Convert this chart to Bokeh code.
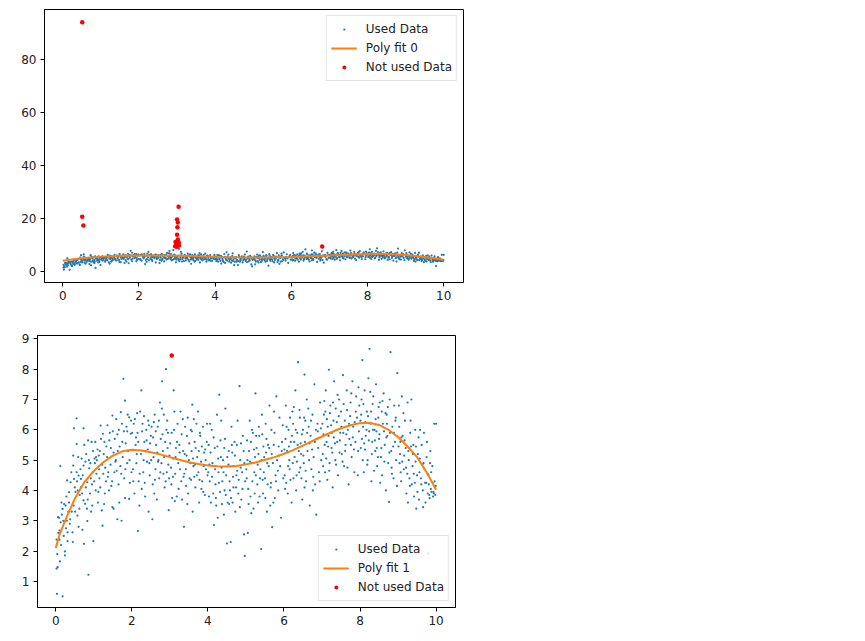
from bokeh.plotting import figure
from bokeh.models import Range1d, FixedTicker, Legend
from bokeh.embed import file_html
from bokeh.resources import INLINE

# ---------------- data ----------------
used_0 = [(0.02,1.42),(0.03,0.59),(0.05,1.47),(0.18,0.51),(0.11,1.66),(0.24,1.86),(0.24,1.99),(0.02,2.38),
          (0.10,2.38),(0.10,2.68),(0.13,2.95),(0.06,3.12),(0.09,3.10),(0.20,3.00),(0.29,3.00),(0.18,3.39),
          (0.26,3.50),(0.15,3.60),(0.22,3.55),(0.31,2.62),(0.44,2.62),(0.31,2.33),(0.45,2.30),(0.12,4.80),
          (0.35,3.94),(0.39,4.27),(0.30,4.33),(0.48,4.38),(0.55,4.60),(0.46,4.82),(0.46,5.15),(0.55,5.53),
          (0.48,6.05),(0.55,6.38),(0.73,6.05),(0.60,4.49),(0.66,4.38),(0.57,3.17),(0.60,2.80),(0.70,2.70),
          (0.74,2.24),(0.86,1.22),(0.99,2.33),(0.73,3.67),(0.77,3.56),(0.82,3.40),(0.66,4.10),(0.83,4.27),
          (0.88,4.73),(0.92,4.40),(0.73,4.82),(0.80,5.20),(0.83,2.99),(0.96,3.50),(0.97,4.60),(0.94,5.60),
          (0.85,5.65),(0.38,3.05),(0.42,3.30),(0.27,2.75),(0.52,3.95),(0.63,3.85),(0.68,5.05),(0.90,3.90),
          (0.78,4.95),(0.35,3.60),(0.50,4.10),(0.58,4.00),
          (0.04,1.90),(0.07,2.60),(0.14,2.20),(0.16,3.20),(0.21,2.50),(0.28,3.80),(0.33,3.30),(0.37,2.90),
          (0.41,4.60),(0.47,3.50),(0.51,3.30),(0.56,4.30),(0.59,5.10),(0.62,3.40),(0.65,4.70),(0.69,3.90),
          (0.71,4.50),(0.75,5.50),(0.79,4.10),(0.84,3.70),(0.87,5.00),(0.91,4.90),(0.93,3.30),(0.95,4.20),
          (0.98,5.30)]
used_1 = [(1.03,4.90),(1.08,5.00),(1.02,5.05),(1.06,5.10),(1.10,5.35),(1.16,5.30),(1.24,5.87),(1.18,6.14),
          (1.21,3.34),(1.23,2.84),(1.05,4.00),(1.12,3.95),(1.15,4.40),(1.49,3.45),(1.52,3.40),(1.62,3.05),
          (1.73,3.00),(1.40,4.00),(1.48,4.30),(1.49,6.47),(1.71,6.58),(1.78,7.68),(1.82,6.96),(1.93,6.41),
          (1.97,5.87),(1.93,3.72),(1.30,4.75),(1.35,5.10),(1.28,5.60),(1.32,4.30),(1.38,4.60),(1.45,5.40),
          (1.55,5.70),(1.58,5.00),(1.60,4.65),(1.62,5.85),(1.65,4.20),(1.68,5.45),(1.70,4.80),(1.74,6.20),
          (1.76,5.10),(1.80,4.40),(1.84,5.55),(1.86,6.10),(1.88,4.90),(1.90,5.30),(1.95,4.25),(1.98,6.30),
          (1.42,5.90),(1.25,4.55),(1.14,4.70),(1.57,4.95),(1.66,6.00),(1.82,3.75),(1.27,3.55),(1.36,6.15),
          (1.52,5.25),(1.88,5.95),(1.72,4.55),(1.44,4.85),
          (1.01,4.30),(1.04,5.60),(1.07,4.55),(1.11,3.60),(1.13,5.15),(1.17,4.10),(1.19,5.70),(1.22,4.85),
          (1.26,5.20),(1.29,3.90),(1.33,5.45),(1.37,4.45),(1.41,5.65),(1.46,4.15),(1.50,5.95),(1.54,4.60),
          (1.59,6.35),(1.63,5.30),(1.67,3.60),(1.75,5.60),(1.79,5.95),(1.83,4.70),(1.89,6.50),(1.94,5.00),
          (1.99,4.60)]
used_2 = [(2.16,2.66),(2.25,7.30),(2.54,3.05),(2.90,8.00),(2.80,7.60),(2.20,3.50),(2.22,6.60),(2.05,6.20),
          (2.10,5.50),(2.12,4.90),(2.15,5.90),(2.18,4.30),(2.24,5.20),(2.28,6.20),(2.30,4.60),(2.33,5.60),
          (2.35,3.80),(2.38,6.00),(2.40,4.95),(2.42,5.35),(2.45,6.15),(2.47,4.50),(2.50,5.80),(2.52,6.10),
          (2.55,4.20),(2.57,5.10),(2.60,6.50),(2.62,4.70),(2.64,5.50),(2.66,3.70),(2.68,6.10),(2.70,5.00),
          (2.72,4.40),(2.74,6.90),(2.76,5.70),(2.78,4.90),(2.82,5.30),(2.84,6.50),(2.86,4.10),(2.88,5.60),
          (2.92,4.60),(2.95,5.90),(2.97,3.35),(2.99,5.15),(2.03,4.70),(2.07,3.90),(2.14,6.55),(2.36,5.30),
          (2.44,3.30),(2.58,6.25),(2.69,4.95),(2.79,6.70),(2.93,6.30),(2.26,4.05),(2.48,5.55),(2.61,4.35),
          (2.83,4.55),(2.11,5.75),(2.96,4.85),(2.32,6.45),
          (2.01,5.90),(2.04,4.30),(2.08,6.35),(2.13,5.20),(2.17,5.60),(2.21,4.55),(2.27,5.95),(2.31,5.00),
          (2.34,4.25),(2.39,5.65),(2.43,6.30),(2.46,4.90),(2.51,5.00),(2.56,5.75),(2.59,3.90),(2.63,5.95),
          (2.67,5.25),(2.71,6.30),(2.75,4.60),(2.81,5.85),(2.85,5.10),(2.89,4.30),(2.91,6.00),(2.94,5.40),
          (2.98,4.40)]
used_3 = [(3.10,7.30),(3.37,2.80),(3.59,6.83),(3.05,5.90),(3.08,4.45),(3.12,6.60),(3.15,5.10),(3.18,3.80),
          (3.20,6.20),(3.22,4.90),(3.25,5.50),(3.28,6.60),(3.30,4.30),(3.32,3.70),(3.35,5.30),(3.40,6.10),
          (3.42,4.70),(3.45,5.80),(3.48,3.90),(3.50,5.00),(3.52,4.40),(3.55,6.00),(3.57,5.30),(3.60,3.30),
          (3.62,4.80),(3.65,5.60),(3.67,4.10),(3.70,6.20),(3.72,5.10),(3.75,4.60),(3.77,3.60),(3.80,5.80),
          (3.82,4.95),(3.85,4.30),(3.87,6.10),(3.90,5.25),(3.92,3.85),(3.95,4.70),(3.97,5.60),(3.03,4.75),
          (3.13,3.65),(3.26,5.25),(3.38,4.55),(3.46,3.55),(3.58,5.95),(3.68,5.40),(3.78,4.35),(3.88,3.95),
          (3.98,6.20),(3.16,5.40),(3.34,6.35),(3.54,4.90),(3.74,6.60),(3.94,5.00),(3.06,3.75),(3.44,5.15),
          (3.64,4.45),(3.84,5.45),
          (3.01,5.55),(3.04,4.20),(3.09,5.05),(3.11,6.00),(3.14,4.55),(3.19,5.60),(3.23,4.05),(3.27,4.70),
          (3.31,5.85),(3.36,4.45),(3.39,5.20),(3.43,4.15),(3.47,6.40),(3.51,5.55),(3.56,4.35),(3.61,5.05),
          (3.63,6.35),(3.66,4.85),(3.71,4.50),(3.76,5.30),(3.79,5.90),(3.83,4.05),(3.89,4.80),(3.93,5.35),
          (3.99,4.50)]
used_4 = [(4.16,2.86),(4.30,7.16),(4.50,2.25),(4.83,7.44),(4.97,1.84),(4.60,2.30),(4.02,5.50),(4.05,4.30),
          (4.08,3.60),(4.10,6.00),(4.12,4.90),(4.18,5.40),(4.20,4.20),(4.22,3.50),(4.25,5.45),(4.28,4.60),
          (4.32,3.95),(4.35,6.30),(4.38,4.30),(4.40,5.00),(4.42,3.20),(4.45,5.70),(4.48,4.50),(4.52,3.60),
          (4.55,5.30),(4.58,4.00),(4.62,6.10),(4.65,3.60),(4.68,4.80),(4.70,5.60),(4.72,3.30),(4.75,4.50),
          (4.78,6.30),(4.80,3.90),(4.85,5.00),(4.88,3.70),(4.90,4.60),(4.92,5.80),(4.95,2.55),(4.98,4.30),
          (4.04,4.85),(4.14,3.90),(4.24,6.50),(4.34,5.10),(4.44,4.00),(4.54,4.85),(4.64,5.25),(4.74,4.10),
          (4.84,3.45),(4.94,5.30),(4.06,6.20),(4.26,3.10),(4.46,6.70),(4.66,4.45),(4.86,4.75),(4.36,4.75),
          (4.56,3.55),(4.76,5.50),
          (4.01,4.60),(4.03,3.80),(4.07,5.25),(4.11,4.45),(4.15,5.75),(4.19,4.70),(4.21,3.75),(4.27,5.05),
          (4.29,4.25),(4.33,5.65),(4.37,3.55),(4.41,4.60),(4.43,5.40),(4.47,3.85),(4.51,5.10),(4.57,4.30),
          (4.61,3.75),(4.63,5.50),(4.67,4.10),(4.71,5.15),(4.77,4.65),(4.81,4.35),(4.87,5.55),(4.91,4.05),
          (4.96,4.90)]
used_5 = [(5.40,2.07),(5.69,2.79),(5.05,2.60),(5.10,6.30),(5.02,4.40),(5.08,5.30),(5.12,3.80),(5.15,4.90),
          (5.18,5.90),(5.20,3.40),(5.22,4.60),(5.25,7.20),(5.28,5.40),(5.30,4.20),(5.32,3.60),(5.35,5.80),
          (5.38,4.70),(5.42,6.50),(5.45,3.90),(5.48,5.10),(5.50,4.40),(5.52,6.20),(5.55,3.30),(5.58,5.50),
          (5.60,4.80),(5.62,6.80),(5.65,4.10),(5.68,5.20),(5.72,3.60),(5.75,5.90),(5.78,4.50),(5.80,7.10),
          (5.82,5.00),(5.85,4.00),(5.88,6.40),(5.90,4.80),(5.92,3.10),(5.95,5.60),(5.98,4.40),(5.04,5.00),
          (5.14,3.25),(5.24,5.10),(5.34,6.10),(5.44,4.35),(5.54,5.70),(5.64,3.50),(5.74,6.60),(5.84,4.65),
          (5.94,5.30),(5.06,4.05),(5.26,4.50),(5.46,5.45),(5.66,4.25),(5.86,5.45),(5.16,6.00),(5.36,3.80),
          (5.56,4.90),(5.76,3.75),
          (5.01,4.70),(5.03,5.65),(5.07,3.55),(5.11,4.95),(5.13,5.60),(5.17,4.30),(5.21,5.35),(5.23,3.90),
          (5.27,5.80),(5.31,4.85),(5.33,5.20),(5.37,4.40),(5.41,5.00),(5.43,5.85),(5.47,4.60),(5.51,3.75),
          (5.53,5.25),(5.57,4.20),(5.61,5.40),(5.67,6.00),(5.71,4.90),(5.73,5.50),(5.79,4.30),(5.87,5.15),
          (5.97,6.15)]
used_6 = [(6.37,8.23),(6.85,3.20),(6.54,7.82),(6.02,4.50),(6.05,6.80),(6.08,5.30),(6.10,3.90),(6.12,6.00),
          (6.15,4.70),(6.18,5.60),(6.20,3.60),(6.22,6.60),(6.25,4.40),(6.28,5.10),(6.30,7.30),(6.32,4.00),
          (6.35,5.90),(6.40,4.60),(6.42,6.40),(6.45,5.20),(6.48,3.70),(6.50,6.00),(6.52,4.90),(6.55,5.60),
          (6.58,4.30),(6.60,7.00),(6.62,5.30),(6.65,6.10),(6.68,3.50),(6.70,5.80),(6.72,4.70),(6.75,6.50),
          (6.78,5.10),(6.80,7.50),(6.82,4.20),(6.88,6.20),(6.90,5.40),(6.92,4.60),(6.95,6.90),(6.98,5.00),
          (6.04,5.70),(6.14,5.00),(6.24,6.20),(6.34,4.95),(6.44,5.55),(6.54,4.10),(6.64,6.70),(6.74,5.35),
          (6.84,6.00),(6.94,4.30),(6.06,4.25),(6.26,6.75),(6.46,4.40),(6.66,5.00),(6.86,5.70),(6.16,6.40),
          (6.36,5.50),(6.56,6.30),(6.76,4.00),
          (6.01,5.35),(6.03,4.05),(6.07,6.10),(6.11,4.80),(6.13,5.45),(6.17,4.35),(6.21,5.80),(6.23,4.90),
          (6.27,5.60),(6.31,6.00),(6.33,4.50),(6.39,5.30),(6.41,6.65),(6.43,4.75),(6.47,5.85),(6.51,5.15),
          (6.53,6.40),(6.57,4.65),(6.61,5.90),(6.67,5.55),(6.71,6.30),(6.77,4.45),(6.81,5.60),(6.89,5.95),
          (6.97,6.05)]
used_7 = [(7.18,7.98),(7.02,5.20),(7.05,6.50),(7.08,4.60),(7.10,7.30),(7.12,5.60),(7.15,6.10),(7.20,4.90),
          (7.22,6.80),(7.25,5.40),(7.28,4.10),(7.30,6.30),(7.32,7.60),(7.35,5.00),(7.38,6.00),(7.40,5.60),
          (7.42,4.50),(7.45,7.00),(7.48,5.90),(7.50,6.60),(7.52,5.20),(7.55,7.80),(7.58,4.80),(7.60,6.30),
          (7.62,5.50),(7.65,7.30),(7.68,6.00),(7.70,4.20),(7.72,5.70),(7.75,6.90),(7.78,5.10),(7.80,7.60),
          (7.82,6.10),(7.85,4.60),(7.88,5.60),(7.90,7.10),(7.92,6.40),(7.95,5.30),(7.98,6.80),(7.04,5.85),
          (7.14,4.35),(7.24,6.15),(7.34,5.55),(7.44,6.45),(7.54,4.95),(7.64,5.85),(7.74,6.45),(7.84,5.35),
          (7.94,4.50),(7.06,6.95),(7.26,5.90),(7.46,5.25),(7.66,6.65),(7.86,6.25),(7.16,5.45),(7.36,6.70),
          (7.56,5.90),(7.76,5.50),(7.96,7.40),
          (7.01,6.20),(7.03,4.80),(7.07,5.50),(7.09,6.60),(7.11,5.05),(7.13,6.35),(7.17,5.80),(7.19,4.65),
          (7.21,6.55),(7.27,5.25),(7.29,6.90),(7.31,5.75),(7.37,4.85),(7.39,6.25),(7.41,7.15),(7.47,5.65),
          (7.51,6.10),(7.57,6.85),(7.61,5.30),(7.67,4.75),(7.71,6.20),(7.77,7.20),(7.81,5.75),(7.89,6.60),
          (7.97,5.95)]
used_8 = [(8.25,8.67),(8.06,8.30),(8.76,3.62),(8.80,8.56),(8.02,5.40),(8.04,7.00),(8.08,6.10),(8.10,4.60),
          (8.12,7.30),(8.15,5.80),(8.18,6.60),(8.20,5.00),(8.22,7.70),(8.28,6.20),(8.30,4.30),(8.32,5.60),
          (8.35,7.10),(8.38,6.00),(8.40,5.30),(8.42,7.50),(8.45,4.80),(8.48,6.40),(8.50,5.70),(8.52,6.90),
          (8.55,5.10),(8.58,4.50),(8.60,6.20),(8.62,7.20),(8.65,5.50),(8.68,4.00),(8.70,6.50),(8.72,5.80),
          (8.74,4.90),(8.78,7.00),(8.82,5.30),(8.85,6.10),(8.88,4.40),(8.90,6.80),(8.92,5.60),(8.95,5.00),
          (8.98,7.87),(8.03,6.50),(8.13,5.35),(8.23,5.65),(8.33,6.85),(8.43,5.95),(8.53,4.25),(8.63,5.95),
          (8.73,6.75),(8.83,4.75),(8.93,6.30),(8.07,5.00),(8.27,7.25),(8.47,5.10),(8.67,6.55),(8.87,5.45),
          (8.17,6.00),(8.37,4.65),(8.57,6.60),(8.77,5.25),(8.97,4.15),
          (8.01,6.30),(8.05,5.70),(8.09,6.85),(8.11,5.55),(8.14,6.25),(8.19,4.85),(8.21,6.45),(8.24,5.95),
          (8.29,6.60),(8.31,5.20),(8.34,6.00),(8.39,5.65),(8.41,6.35),(8.44,5.40),(8.49,6.75),(8.51,5.85),
          (8.56,5.40),(8.59,6.95),(8.64,4.95),(8.69,5.75),(8.71,6.20),(8.79,5.90),(8.84,4.55),(8.89,5.90),
          (8.94,6.40)]
used_9 = [(9.48,3.40),(9.02,6.80),(9.05,5.20),(9.08,4.30),(9.10,7.10),(9.12,5.80),(9.15,4.70),(9.18,6.30),
          (9.20,5.40),(9.22,3.90),(9.25,6.90),(9.28,5.00),(9.30,4.40),(9.32,5.90),(9.35,7.00),(9.38,4.80),
          (9.40,5.50),(9.42,3.80),(9.45,6.00),(9.50,4.50),(9.52,5.20),(9.55,3.70),(9.58,6.00),(9.60,4.40),
          (9.62,5.50),(9.65,4.00),(9.68,5.90),(9.70,4.70),(9.72,3.60),(9.75,5.10),(9.78,3.90),(9.80,4.50),
          (9.82,3.85),(9.85,5.30),(9.88,3.95),(9.90,4.80),(9.92,3.80),(9.95,6.20),(9.97,4.10),(10.00,6.20),
          (9.98,3.85),(9.04,4.90),(9.14,6.55),(9.24,4.55),(9.34,5.45),(9.44,4.25),(9.54,5.75),(9.64,4.85),
          (9.74,4.25),(9.84,4.90),(9.94,3.90),(9.06,5.60),(9.26,3.60),(9.46,4.95),(9.66,3.45),(9.86,4.05),
          (9.16,5.15),(9.36,4.20),(9.56,4.60),(9.76,5.60),(9.96,4.30),(9.80,1.92),
          (9.01,5.45),(9.03,6.10),(9.07,4.60),(9.09,5.75),(9.11,4.95),(9.17,5.65),(9.21,4.75),(9.27,5.30),
          (9.31,4.15),(9.33,6.30),(9.39,5.20),(9.41,4.55),(9.47,5.45),(9.51,3.95),(9.57,5.05),(9.61,4.20),
          (9.67,4.90),(9.71,4.25),(9.77,4.55),(9.81,4.20),(9.83,3.75),(9.87,4.60),(9.91,4.25),(9.93,3.95),
          (9.99,4.15)]

# points rejected in the second pass (used in the first)
not_used_1 = [(3.05, 8.45)]
# points rejected in the first pass
not_used_0 = [(0.51,94.3),(0.51,20.6),(0.54,17.3),(3.04,24.4),(3.00,19.6),(3.02,18.4),(3.01,16.6),(3.00,13.8),
              (3.02,12.0),(2.96,11.0),(3.04,10.9),(2.98,10.4),(3.01,10.0),(3.05,9.7),(2.95,9.4),(3.03,10.6),
              (2.99,9.2),(6.81,9.35)]

fit1_x = [0.0,0.1,0.25,0.5,0.75,1.0,1.25,1.5,1.75,2.0,2.25,2.5,2.75,3.0,3.25,3.5,3.75,4.0,4.25,4.5,4.75,
          5.0,5.25,5.5,5.75,6.0,6.25,6.5,6.75,7.0,7.25,7.5,7.75,8.0,8.25,8.5,8.75,9.0,9.25,9.5,9.75,10.0]
fit1_y = [2.10,2.55,3.01,3.73,4.27,4.64,4.93,5.15,5.29,5.34,5.32,5.26,5.19,5.10,5.01,4.93,4.87,4.82,4.80,4.79,4.81,
          4.86,4.92,5.01,5.10,5.21,5.34,5.48,5.63,5.78,5.92,6.05,6.15,6.22,6.23,6.16,6.00,5.76,5.45,5.10,4.60,4.02]
fit0_x = [0.0,0.5,1.0,1.5,2.0,2.5,3.0,3.5,4.0,4.5,5.0,5.5,6.0,6.5,7.0,7.5,8.0,8.5,9.0,9.5,10.0]
fit0_y = [3.9,4.9,5.5,5.8,5.95,5.95,5.85,5.6,5.4,5.25,5.2,5.25,5.4,5.65,5.95,6.25,6.5,6.45,6.1,5.4,4.3]

x_ticks = [0, 2, 4, 6, 8, 10]
y_ticks_top = [0, 20, 40, 60, 80]
y_ticks_bottom = [1, 2, 3, 4, 5, 6, 7, 8, 9]

# ---------------- assemble ----------------
used = used_0 + used_1 + used_2 + used_3 + used_4 + used_5 + used_6 + used_7 + used_8 + used_9
ux = [p[0] for p in used]
uy = [p[1] for p in used]
top_ux = ux + [p[0] for p in not_used_1]
top_uy = uy + [p[1] for p in not_used_1]

BLUE = "#1f77b4"
ORANGE = "#ff7f0e"
FONT = "DejaVu Sans"
OFF = [-1000.0]  # legend-only glyphs sit outside the visible ranges


def style(p, yticks):
    p.xaxis.ticker = FixedTicker(ticks=x_ticks)
    p.yaxis.ticker = FixedTicker(ticks=yticks)
    p.xgrid.visible = False
    p.ygrid.visible = False
    p.outline_line_color = "black"
    p.outline_line_width = 1
    p.outline_line_alpha = 1
    for ax in (p.xaxis[0], p.yaxis[0]):
        ax.axis_line_color = "black"
        ax.major_tick_line_color = "black"
        ax.major_tick_out = 4
        ax.major_tick_in = 0
        ax.minor_tick_line_color = None
        ax.major_label_text_font = FONT
        ax.major_label_text_font_size = "12px"
        ax.major_label_text_color = "#222222"
        ax.major_label_standoff = 4
    p.background_fill_color = "white"
    p.border_fill_color = "white"


def add_plot(p, sx, sy, fx, fy, rx, ry, fit_label, loc):
    p.scatter(sx, sy, size=2.2, color=BLUE, line_width=0)
    fit = p.line(fx, fy, line_color=ORANGE, line_width=2)
    p.scatter(rx, ry, size=4.5, color="red", line_width=0)
    # legend swatches: small dots (white ring trims the legend marker)
    lg_blue = p.scatter(OFF, OFF, size=2, fill_color=BLUE, line_color="white", line_width=5.0)
    lg_red = p.scatter(OFF, OFF, size=4, fill_color="red", line_color="white", line_width=3.2)
    leg = Legend(items=[("Used Data", [lg_blue]), (fit_label, [fit]), ("Not used Data", [lg_red])],
                 location=loc)
    leg.label_text_font = FONT
    leg.label_text_font_size = "12px"
    leg.label_text_color = "#222222"
    leg.label_height = 18
    leg.glyph_height = 18
    leg.glyph_width = 26
    leg.label_standoff = 9
    leg.spacing = 1
    leg.padding = 4
    leg.margin = 6
    leg.border_line_color = "#cccccc"
    leg.border_line_width = 1
    leg.background_fill_color = "white"
    leg.background_fill_alpha = 0.8
    p.add_layout(leg)


# top plot (frame at x 44..463, y 9..282); figure is 475 x 318
p1 = figure(frame_width=419, frame_height=273, output_backend="svg", toolbar_location=None,
            x_range=Range1d(-0.48, 10.52), y_range=Range1d(-4.3, 99.1),
            min_border_left=44, min_border_top=9, min_border_bottom=36, min_border_right=12)
add_plot(p1, top_ux, top_uy, fit0_x, fit0_y,
         [p[0] for p in not_used_0], [p[1] for p in not_used_0], "Poly fit 0", "top_right")
style(p1, y_ticks_top)

# bottom plot (frame at x 37..455, y 335..607), placed right under the top one
p2 = figure(frame_width=418, frame_height=272, output_backend="svg", toolbar_location=None,
            x_range=Range1d(-0.48, 10.51), y_range=Range1d(0.14, 9.11),
            min_border_left=37, min_border_top=17, min_border_bottom=28, min_border_right=20)
add_plot(p2, ux, uy, fit1_x, fit1_y,
         [p[0] for p in not_used_1], [p[1] for p in not_used_1], "Poly fit 1", "bottom_right")
style(p2, y_ticks_bottom)

# two independent roots, so the two frames are not aligned to each other
open("out.html", "w").write(file_html([p1, p2], INLINE))
